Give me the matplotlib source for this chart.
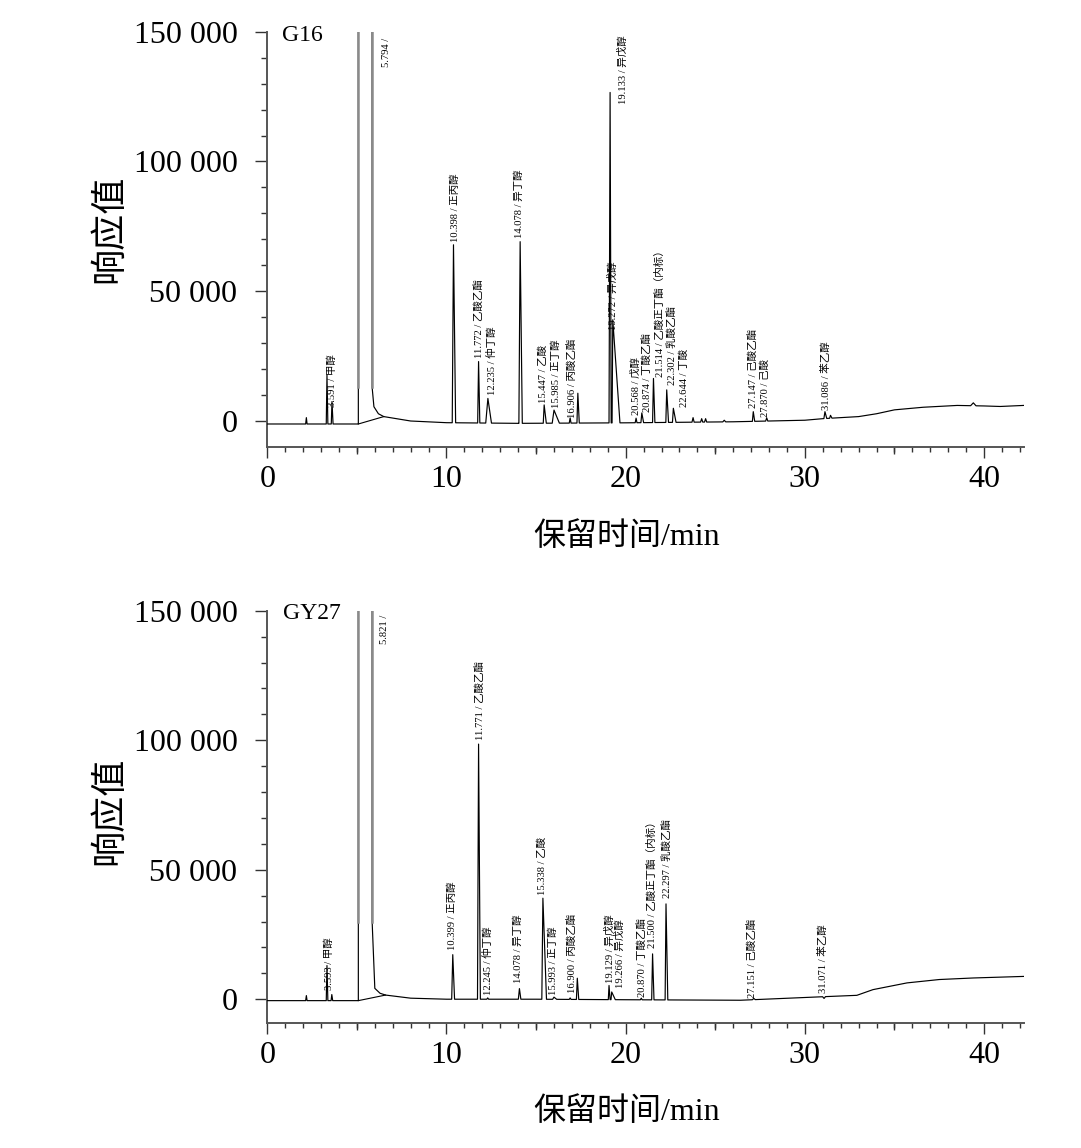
import numpy as np
import matplotlib
matplotlib.use('Agg')
import matplotlib.pyplot as plt
from matplotlib.ticker import MultipleLocator, FuncFormatter

plt.rcParams['font.family'] = ['Liberation Serif', 'Noto Sans CJK SC']

# ------------------------- G16 -------------------------
g16_base_t = [0, 5.08, 6.5, 8.0, 10.0, 14.0, 20.0, 26.0, 30.0, 31.0, 33.0, 34.0, 35.0, 36.6, 38.5, 40.0, 40.9, 42.2]
g16_base_v = [-1150, -1150, 1700, 0, -650, -900, -700, -300, 300, 900, 1700, 2800, 4300, 5300, 6000, 5800, 5600, 6000]
g16_peak_t = [2.18, 3.33, 3.61, 10.39, 11.79, 12.31, 14.11, 15.45, 16.0, 16.9, 17.33, 19.13, 19.28,
              20.58, 20.9, 21.55, 22.29, 22.66, 23.76, 24.24, 24.46, 25.5, 27.12, 27.87, 31.12, 31.43, 39.4]
g16_peak_h = [1300, 17700, 7500, 67900, 22900, 8700, 69100, 6200, 4200, 1200, 10700, 126600, 39000,
              1100, 3100, 16400, 12000, 4900, 1300, 900, 900, 300, 3600, 1200, 3600, 2200, 7000]
g16_peak_wl = [0.04, 0.04, 0.04, 0.07, 0.05, 0.12, 0.07, 0.05, 0.10, 0.05, 0.05, 0.06, 0.04,
               0.05, 0.05, 0.05, 0.05, 0.05, 0.06, 0.06, 0.06, 0.08, 0.05, 0.06, 0.06, 0.05, 0.15]
g16_peak_wr = [0.04, 0.05, 0.06, 0.12, 0.07, 0.20, 0.12, 0.12, 0.30, 0.05, 0.08, 0.06, 0.40,
               0.05, 0.10, 0.08, 0.10, 0.15, 0.06, 0.06, 0.06, 0.08, 0.08, 0.06, 0.10, 0.08, 0.15]
g16_solvent = [5.08, 5.85]
g16_tail_t = [5.85, 5.95, 6.2, 6.5]
g16_tail_v = [13000, 5500, 2800, 1700]
g16_label_text = ['3.591 / 甲醇', '5.794 /', '10.398 / 正丙醇', '11.772 / 乙酸乙酯', '12.235 / 仲丁醇',
                  '14.078 / 异丁醇', '15.447 / 乙酸', '15.985 / 正丁醇', '16.906 / 丙酸乙酯',
                  '19.133 / 异戊醇', '19.272 / 异戊醇', '20.568 / 戊醇', '20.874 / 丁酸乙酯',
                  '21.514 / 乙酸正丁酯（内标）', '22.302 / 乳酸乙酯', '22.644 / 丁酸',
                  '27.147 / 己酸乙酯', '27.870 / 己酸', '31.086 / 苯乙醇']
g16_label_x = [3.62, 6.63, 10.49, 11.82, 12.53, 14.05, 15.40, 16.15, 17.0, 19.87, 19.31, 20.6, 21.18,
               21.92, 22.6, 23.26, 27.12, 27.8, 31.16]
g16_label_y = [5500, 147600, 69000, 24200, 10000, 70400, 6900, 5000, 1200, 148700, 35100, 2300, 3600,
               17100, 13900, 5500, 5000, 1700, 4200]
g16_label_top = [False, True, False, False, False, False, False, False, False, True, False, False, False,
                 False, False, False, False, False, False]

# ------------------------- GY27 -------------------------
gy27_base_t = [0, 5.08, 6.5, 8.0, 10.0, 15.0, 20.0, 26.4, 30.8, 32.9, 33.8, 35.7, 37.5, 39.4, 42.2]
gy27_base_v = [-550, -550, 1600, 400, 0, 0, -200, -400, 900, 1500, 3700, 6300, 7600, 8200, 8800]
gy27_peak_t = [2.18, 3.33, 3.6, 10.35, 11.79, 12.3, 14.07, 15.38, 16.0, 16.9, 17.3, 19.07, 19.22,
               20.87, 21.5, 22.25, 27.15, 31.07]
gy27_peak_h = [1400, 13000, 1800, 17200, 98500, 500, 4100, 39000, 800, 500, 8100, 5300, 2800,
               400, 17500, 36800, 300, 300]
gy27_peak_wl = [0.04, 0.04, 0.04, 0.06, 0.06, 0.05, 0.06, 0.06, 0.08, 0.05, 0.05, 0.04, 0.04,
                0.05, 0.05, 0.05, 0.08, 0.08]
gy27_peak_wr = [0.04, 0.05, 0.05, 0.10, 0.10, 0.05, 0.08, 0.20, 0.15, 0.05, 0.08, 0.06, 0.20,
                0.05, 0.08, 0.10, 0.08, 0.08]
gy27_solvent = [5.08, 5.85]
gy27_tail_t = [5.85, 6.0, 6.29, 6.6]
gy27_tail_v = [30000, 4200, 2300, 1600]
gy27_label_text = ['3.593 / 甲醇', '5.821 /', '10.399 / 正丙醇', '11.771 / 乙酸乙酯', '12.245 / 仲丁醇',
                   '14.078 / 异丁醇', '15.338 / 乙酸', '15.993 / 正丁醇', '16.900 / 丙酸乙酯',
                   '19.129 / 异戊醇', '19.266 / 异戊醇', '20.870 / 丁酸乙酯',
                   '21.500 / 乙酸正丁酯（内标）', '22.297 / 乳酸乙酯', '27.151 / 己酸乙酯', '31.071 / 苯乙醇']
gy27_label_x = [3.44, 6.55, 10.3, 11.88, 12.34, 14.02, 15.32, 15.97, 16.99, 19.13, 19.69, 20.89,
                21.49, 22.3, 27.03, 31.03]
gy27_label_y = [3600, 148400, 19000, 100100, 1700, 6200, 40300, 1700, 2300, 6200, 4200, 1000,
                19700, 39000, 400, 2300]
gy27_label_top = [False, True] + [False] * 14

x_ticks = [0, 10, 20, 30, 40]
y_ticks = [0, 50000, 100000, 150000]


def build_trace(base_t, base_v, pk_t, pk_h, pk_wl, pk_wr, sol, tail_t, tail_v, top):
    windows = [(t - wl, t + wr) for t, wl, wr in zip(pk_t, pk_wl, pk_wr)]
    windows.append((sol[0], tail_t[-1]))
    pts = []
    for bt, bv in zip(base_t, base_v):
        if not any(a <= bt <= b for a, b in windows):
            pts.append((bt, bv))
    for t, h, wl, wr in zip(pk_t, pk_h, pk_wl, pk_wr):
        pts.append((t - wl, np.interp(t - wl, base_t, base_v)))
        pts.append((t, h))
        pts.append((t + wr, np.interp(t + wr, base_t, base_v)))
    pts.append((sol[0], np.interp(sol[0], base_t, base_v)))
    pts.append((sol[0], top))
    pts.append((sol[1], top))
    for t, v in zip(tail_t, tail_v):
        pts.append((t, v))
    pts.sort(key=lambda p: p[0])
    return [p[0] for p in pts], [p[1] for p in pts]


def draw_panel(ax, name, name_x, name_y, ymin, base_t, base_v, pk_t, pk_h, pk_wl, pk_wr,
               sol, tail_t, tail_v, lab_text, lab_x, lab_y, lab_top):
    top = 1.0e6
    xs, ys = build_trace(base_t, base_v, pk_t, pk_h, pk_wl, pk_wr, sol, tail_t, tail_v, top)
    ax.plot(xs, ys, color='black', lw=0.85, zorder=3)
    # solvent (saturated) peak edges
    ax.plot([sol[0], sol[0], sol[1], sol[1]], [tail_v[0], top, top, tail_v[0]],
            color='#8a8a8a', lw=1.8, zorder=4)
    # integration baseline under solvent peak
    b0 = np.interp(sol[0], base_t, base_v)
    ax.plot([sol[0], tail_t[-1]], [b0, tail_v[-1]], color='black', lw=0.8, zorder=3)

    for txt, x, y, istop in zip(lab_text, lab_x, lab_y, lab_top):
        ax.text(x, y, txt, rotation=90, ha='center', va='top' if istop else 'bottom',
                fontsize=7.6, zorder=5)

    ax.text(name_x, name_y, name, fontsize=17, ha='left', va='center')

    ax.set_xlim(0, 42.2)
    ax.set_ylim(ymin, 150000)
    for s in ['top', 'right']:
        ax.spines[s].set_visible(False)
    for s in ['left', 'bottom']:
        ax.spines[s].set_color('#555555')
        ax.spines[s].set_linewidth(1.4)
    ax.set_xticks(x_ticks)
    ax.set_yticks(y_ticks)
    ax.xaxis.set_minor_locator(MultipleLocator(1))
    ax.yaxis.set_minor_locator(MultipleLocator(10000))
    ax.yaxis.set_major_formatter(FuncFormatter(lambda v, p: f"{v:,.0f}".replace(',', ' ')))
    ax.tick_params(axis='x', which='major', direction='out', length=8, width=1.0,
                   color='#333333', labelsize=23, pad=5)
    ax.tick_params(axis='x', which='minor', direction='out', length=3.6, width=1.0, color='#333333')
    ax.tick_params(axis='y', which='major', direction='out', length=8.5, width=1.0,
                   color='#333333', labelsize=23, pad=13)
    ax.tick_params(axis='y', which='minor', direction='out', length=4.3, width=1.0, color='#333333')
    sec = ax.secondary_xaxis('bottom')
    sec.set_xticks([5, 15, 25, 35])
    sec.tick_params(axis='x', which='major', direction='out', length=5.2, width=1.0,
                    color='#333333', labelbottom=False)
    sec.tick_params(axis='x', which='minor', length=0)
    sec.spines['bottom'].set_visible(False)


W, H = 1081, 1148
fig = plt.figure(figsize=(W / 100, H / 100), dpi=100)

left = 267.3 / W
width = (1023.5 - 267.3) / W
ax1 = fig.add_axes([left, 1 - 446.7 / H, width, (446.7 - 31.7) / H])
ax2 = fig.add_axes([left, 1 - 1023.3 / H, width, (1023.3 - 610.7) / H])

draw_panel(ax1, 'G16', 0.8, 148400, -9900, g16_base_t, g16_base_v, g16_peak_t, g16_peak_h,
           g16_peak_wl, g16_peak_wr, g16_solvent, g16_tail_t, g16_tail_v,
           g16_label_text, g16_label_x, g16_label_y, g16_label_top)
draw_panel(ax2, 'GY27', 0.86, 149100, -9300, gy27_base_t, gy27_base_v, gy27_peak_t, gy27_peak_h,
           gy27_peak_wl, gy27_peak_wr, gy27_solvent, gy27_tail_t, gy27_tail_v,
           gy27_label_text, gy27_label_x, gy27_label_y, gy27_label_top)

for ycen_lab, ycen_x in [(229, 537), (811, 1112)]:
    fig.text(110 / W, 1 - ycen_lab / H, '响应值', rotation=90, fontsize=26,
             ha='center', va='center')
    fig.text(627 / W, 1 - ycen_x / H, '保留时间/min', fontsize=23, ha='center', va='center')

fig.savefig('out.png', dpi=100)
